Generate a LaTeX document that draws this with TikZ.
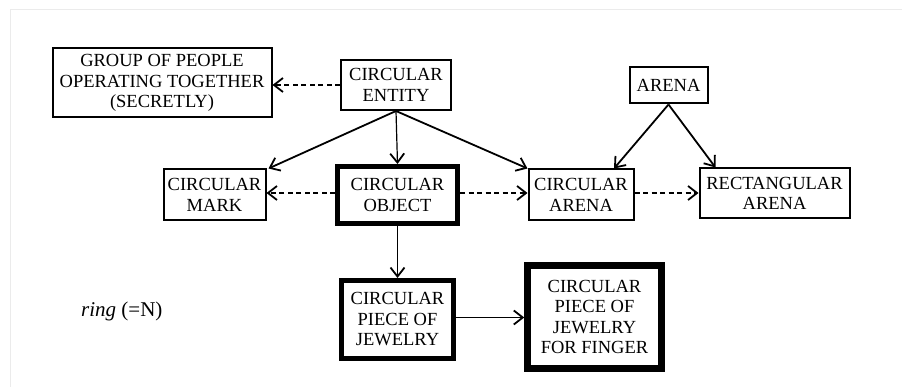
\documentclass[tikz,border=0pt]{standalone}
\usepackage{fontspec}
\setmainfont{Liberation Serif}
\usetikzlibrary{arrows.meta,calc}
\begin{document}
\begin{tikzpicture}[x=1pt,y=-1pt,
  every node/.style={font=\fontsize{18.5}{20.5}\selectfont, align=center, inner sep=0pt},
  thinbox/.style={draw, line width=2pt},
  thickbox/.style={draw, line width=5pt},
  heavybox/.style={draw, line width=6.5pt},
  arr/.style={line width=1.8pt, -{Straight Barb[length=9pt,width=14pt,line width=1.8pt]}},
  darr/.style={arr, dash pattern=on 5pt off 3.5pt}
]
\useasboundingbox (0,0) rectangle (902,387);
\fill[white] (0,0) rectangle (902,387);
\draw[black!8, line width=1pt] (10,387) -- (10,10) -- (902,10);

\node[thinbox, minimum width=219pt, minimum height=69pt] (group) at (162,83)
  {GROUP OF PEOPLE\\OPERATING TOGETHER\\(SECRETLY)};
\node[thinbox, minimum width=110pt, minimum height=50pt] (ce) at (396,85) {CIRCULAR\\ENTITY};
\node[thinbox, minimum width=78pt, minimum height=36pt] (arena) at (668.5,85.5) {ARENA};
\node[thinbox, minimum width=102pt, minimum height=51pt] (cm) at (214.5,195) {CIRCULAR\\MARK};
\node[thickbox, minimum width=120pt, minimum height=57pt] (co) at (397.5,195) {CIRCULAR\\OBJECT};
\node[thinbox, minimum width=105pt, minimum height=51pt] (ca) at (581,195) {CIRCULAR\\ARENA};
\node[thinbox, minimum width=150pt, minimum height=50pt] (ra) at (774.5,193.5) {RECTANGULAR\\ARENA};
\node[thickbox, minimum width=112pt, minimum height=78pt] (pj) at (397.5,319.5) {CIRCULAR\\PIECE OF\\JEWELRY};
\node[heavybox, minimum width=134pt, minimum height=103pt] (pf) at (594.5,317) {CIRCULAR\\PIECE OF\\JEWELRY\\FOR FINGER};
\node[anchor=west, font=\fontsize{21}{24}\selectfont] (ring) at (81,311) {\textit{ring} (=N)};

\draw[darr] (ce.west) -- (ce.west -| group.east);
\draw[arr] (ce.south) -- ([xshift=2pt]cm.north east);
\draw[arr, line width=1.2pt] (ce.south) -- (co.north);
\draw[arr] (ce.south) -- (ca.north west);
\draw[arr] (arena.south) -- ([xshift=33pt]ca.north);
\draw[arr] (arena.south) -- ([xshift=17pt]ra.north west);
\draw[darr] ([yshift=2pt]co.west) -- ([yshift=2pt]co.west -| cm.east);
\draw[darr] ([yshift=2pt]co.east) -- ([yshift=2pt]co.east -| ca.west);
\draw[darr] ([yshift=2pt]ca.east) -- ([yshift=2pt]ca.east -| ra.west);
\draw[arr] (co.south) -- (pj.north);
\draw[arr] ([yshift=2pt]pj.east) -- ([yshift=2pt]pj.east -| pf.west);
\end{tikzpicture}
\end{document}
